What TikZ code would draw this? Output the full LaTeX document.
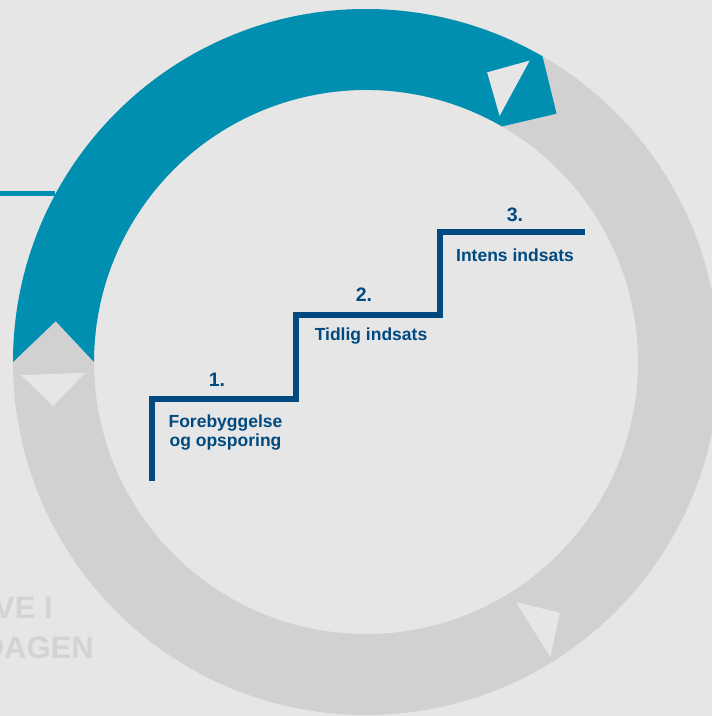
\documentclass[tikz,border=0pt]{standalone}
\usepackage{fontspec}
\setmainfont{Liberation Sans}
\definecolor{bg}{HTML}{E6E6E6}
\definecolor{ringgray}{HTML}{D1D1D1}
\definecolor{ringblue}{HTML}{008FB1}
\definecolor{stairblue}{HTML}{004A80}
\definecolor{fadetext}{HTML}{D3D3D3}
\tikzset{
	stepnum/.style={font=\fontsize{19.5}{20}\selectfont\bfseries, text=stairblue, inner sep=0pt},
	steplabel/.style={font=\fontsize{17.5}{18.5}\selectfont\bfseries, text=stairblue, align=center, inner sep=0pt},
	fadelabel/.style={font=\fontsize{31}{32}\selectfont\bfseries, text=fadetext, inner sep=0pt, anchor=base east},
	pointer/.style={fill=bg},
}
\begin{document}
\begin{tikzpicture}[x=1pt,y=1pt]
	\useasboundingbox (-366,-354) rectangle (346,362);
	\clip (-366,-354) rectangle (346,362);
	\fill[bg] (-366,-354) rectangle (346,362);

	% ring and arrows
	\fill[ringgray, even odd rule] (0,0) circle[radius=353] (0,0) circle[radius=272];
	\draw[bg!35!ringgray, line width=0.5] (-60.2:272) -- (-67.4:313) -- (-60.2:353);
	\fill[ringblue] (180:353) arc[start angle=180, end angle=60, radius=353] -- (52.5:313) -- (60:272)
		arc[start angle=60, end angle=180, radius=272] -- (172.5:313) -- cycle;
	\fill[pointer] (61.5:280) -- (61.5:343) -- (67.3:314) -- cycle;
	\fill[pointer] (182.2:281) -- (182.2:345) -- (188:316) -- cycle;
	\fill[pointer] (-58:283) -- (-58:348) -- (-52.3:317) -- cycle;

	\coordinate (L0) at (-366,168.5);
	\coordinate (L1) at (-311,168.5);
	\draw[ringblue, line width=4.5] (L0) -- (L1);

	% stairs
	\draw[stairblue, line width=6] (-213.5,-119) |- (-70,-36.5) |- (74.5,47) |- (219,130);

	\node[stepnum, anchor=base] (N1) at (-149,-24.5) {1.};
	\node[stepnum, anchor=base] (N2) at (-2,61) {2.};
	\node[stepnum, anchor=base] (N3) at (149,141) {3.};
	\node[steplabel] (T1) at (-140.5,-70.4) {Forebyggelse\\og opsporing};
	\node[steplabel, anchor=base] (T2) at (5,22) {Tidlig indsats};
	\node[steplabel, anchor=base] (T3) at (149,101) {Intens indsats};

	\node[fadelabel] (F1) at (-313,-256) {VE I};
	\node[fadelabel] (F2) at (-272,-296) {DAGEN};
\end{tikzpicture}
\end{document}
